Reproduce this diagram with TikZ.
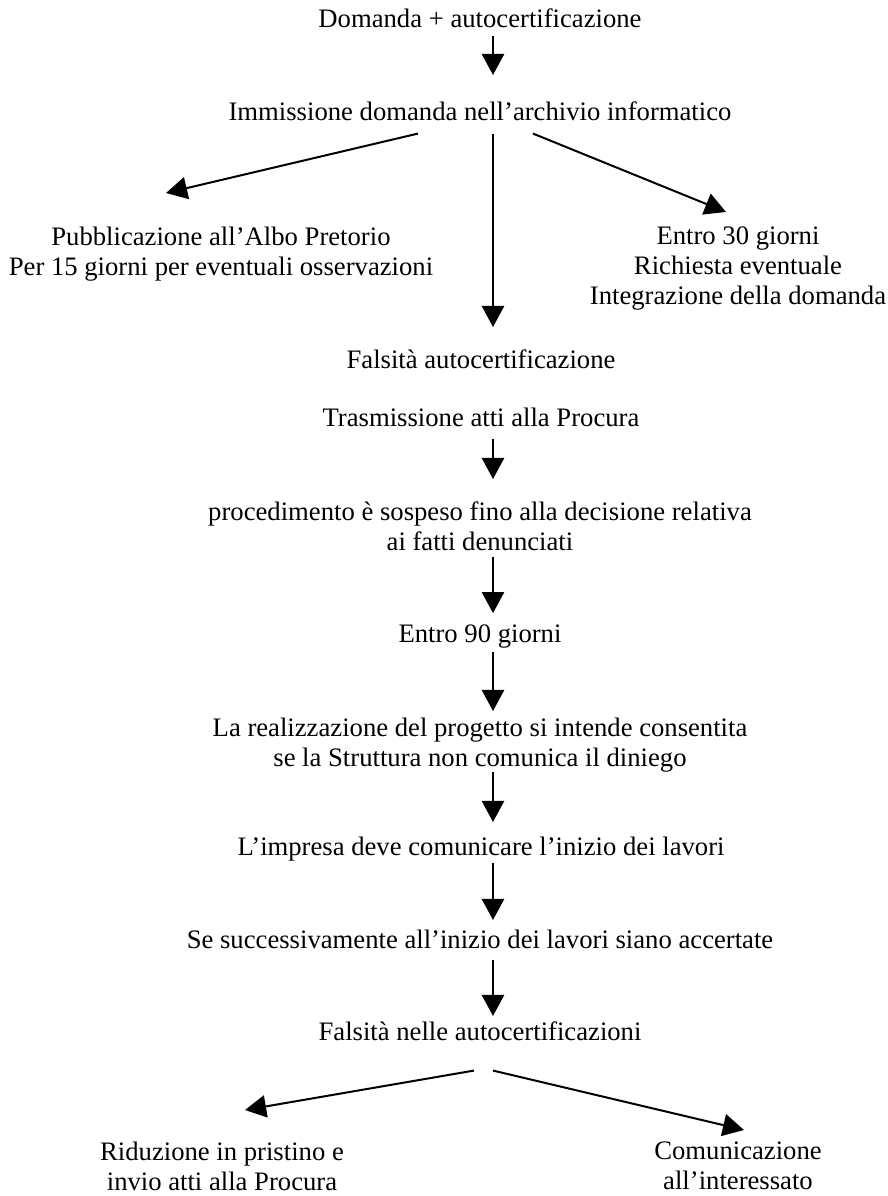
\documentclass[tikz,border=0pt]{standalone}
\usepackage{fontspec}
\setmainfont{Liberation Serif}
\usepackage{tikz}
\usetikzlibrary{arrows.meta, calc}

\begin{document}
\begin{tikzpicture}[x=0.45pt, y=-0.45pt,
    txt/.style={font=\fontsize{12}{13.5}\selectfont, inner sep=0pt, outer sep=0pt, align=center},
    line/.style={txt, anchor=base, text height=9pt, text depth=2.5pt},
    block/.style={txt, anchor=north},
    flow/.style={-{Triangle[length=9.5pt, width=10pt]}, line width=0.9pt}]
\useasboundingbox (0,0) rectangle (887,1196);

% Spine of the vertical arrows
\coordinate (spine) at (493,0);

% Request and registration
\node[line] (domanda) at (480,27) {Domanda + autocertificazione};
\node[line] (immissione) at (480,120) {Immissione domanda nell’archivio informatico};
\draw[flow, shorten <=1.5pt, shorten >=11.25pt] (domanda.south -| spine) -- (immissione.north -| spine);

% Three branches
\node[block] (albo) at (221,227) {Pubblicazione all’Albo Pretorio\\Per 15 giorni per eventuali osservazioni};
\node[block] (entro30) at (738,227) {Entro 30 giorni\\Richiesta eventuale\\Integrazione della domanda};
\node[line] (falsita) at (481,368) {Falsità autocertificazione};
\draw[flow] ($(immissione.south)+(-62,8)$) -- ($(albo.north)+(-55,-34)$);
\draw[flow] ($(immissione.south)+(53,8)$) -- ($(entro30.north)+(-12,-15)$);
\draw[flow, shorten <=3.8pt, shorten >=9.45pt] (immissione.south -| spine) -- (falsita.north -| spine);

% Main sequence
\node[line] (procura) at (481,426) {Trasmissione atti alla Procura};
\node[block] (sospeso) at (480,502) {procedimento è sospeso fino alla decisione relativa\\ai fatti denunciati};
\node[line] (entro90) at (480,642) {Entro 90 giorni};
\node[block] (consenso) at (480,718) {La realizzazione del progetto si intende consentita\\se la Struttura non comunica il diniego};
\node[line] (inizio) at (481,855) {L’impresa deve comunicare l’inizio dei lavori};
\node[line] (accertate) at (480,948) {Se successivamente all’inizio dei lavori siano accertate};
\node[line] (falsita2) at (480,1040) {Falsità nelle autocertificazioni};

\draw[flow, shorten <=3.3pt, shorten >=10.35pt] (procura.south -| spine) -- (sospeso.north -| spine);
\draw[flow, shorten <=2.7pt, shorten >=4pt] (sospeso.south -| spine) -- (entro90.north -| spine);
\draw[flow, shorten <=2pt, shorten >=3.15pt] (entro90.south -| spine) -- (consenso.north -| spine);
\draw[flow, shorten >=5.85pt] (consenso.south -| spine) -- (inizio.north -| spine);
\draw[flow, shorten <=1.1pt, shorten >=3.6pt] (inizio.south -| spine) -- (accertate.north -| spine);
\draw[flow, shorten <=2.9pt, shorten >=1.8pt] (accertate.south -| spine) -- (falsita2.north -| spine);

% Outcomes
\node[block] (pristino) at (222,1142) {Riduzione in pristino e\\invio atti alla Procura};
\node[block] (interessato) at (738,1142) {Comunicazione\\all’interessato};
\draw[flow] ($(falsita2.south)+(-6,25)$) -- ($(pristino.north)+(23,-32)$);
\draw[flow] ($(falsita2.south)+(13,25)$) -- ($(interessato.north)+(6,-12)$);
\end{tikzpicture}
\end{document}
